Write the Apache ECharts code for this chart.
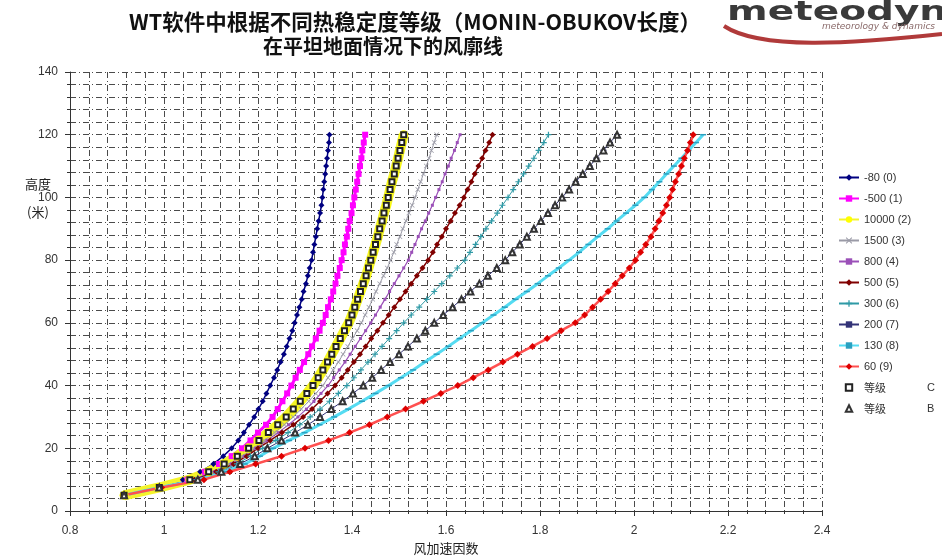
<!DOCTYPE html>
<html><head><meta charset="utf-8">
<script src="https://cdn.jsdelivr.net/npm/echarts@6/dist/echarts.min.js"></script>
<style>html,body{margin:0;padding:0;background:#fff}#c{width:942px;height:560px}</style>
</head><body><div id="c"></div>
<script>
// heights (m)
const heights = [5, 7.5, 10, 12.5, 15, 17.5, 20, 22.5, 25, 27.5,
  30, 32.5, 35, 37.5, 40, 42.5, 45, 47.5, 50, 52.5,
  55, 57.5, 60, 62.5, 65, 67.5, 70, 72.5, 75, 77.5,
  80, 82.5, 85, 87.5, 90, 92.5, 95, 97.5, 100, 102.5,
  105, 107.5, 110, 112.5, 115, 117.5, 120];

// wind speed-up factor for each stability class
const s_m80 = [0.915, 0.990, 1.040, 1.077, 1.105, 1.126, 1.144, 1.158, 1.170, 1.181,
  1.192, 1.201, 1.210, 1.218, 1.226, 1.234, 1.241, 1.248, 1.255, 1.261,
  1.267, 1.273, 1.278, 1.283, 1.288, 1.293, 1.297, 1.302, 1.306, 1.310,
  1.314, 1.317, 1.320, 1.323, 1.326, 1.329, 1.332, 1.335, 1.337, 1.339,
  1.341, 1.343, 1.345, 1.347, 1.349, 1.351, 1.352];
const s_m500 = [0.915, 0.990, 1.050, 1.087, 1.117, 1.144, 1.166, 1.184, 1.200, 1.217,
  1.231, 1.242, 1.252, 1.262, 1.271, 1.280, 1.289, 1.298, 1.307, 1.315,
  1.323, 1.331, 1.338, 1.344, 1.349, 1.355, 1.360, 1.365, 1.369, 1.374,
  1.378, 1.382, 1.385, 1.389, 1.392, 1.395, 1.399, 1.402, 1.405, 1.408,
  1.411, 1.414, 1.417, 1.420, 1.422, 1.425, 1.428];
const s_10000 = [0.915, 0.990, 1.055, 1.095, 1.128, 1.156, 1.180, 1.202, 1.222, 1.242,
  1.260, 1.275, 1.290, 1.304, 1.317, 1.328, 1.338, 1.348, 1.357, 1.366,
  1.375, 1.384, 1.393, 1.400, 1.406, 1.412, 1.418, 1.424, 1.430, 1.435,
  1.440, 1.445, 1.450, 1.455, 1.459, 1.464, 1.468, 1.473, 1.477, 1.481,
  1.485, 1.490, 1.494, 1.498, 1.502, 1.506, 1.510];
const s_1500 = [0.915, 0.990, 1.060, 1.103, 1.138, 1.166, 1.190, 1.213, 1.235, 1.256,
  1.275, 1.292, 1.308, 1.323, 1.338, 1.349, 1.360, 1.371, 1.381, 1.391,
  1.401, 1.411, 1.420, 1.428, 1.436, 1.444, 1.451, 1.459, 1.467, 1.475,
  1.482, 1.489, 1.495, 1.502, 1.508, 1.515, 1.521, 1.528, 1.534, 1.540,
  1.546, 1.552, 1.558, 1.564, 1.569, 1.575, 1.580];
const s_800 = [0.915, 0.990, 1.062, 1.107, 1.143, 1.171, 1.195, 1.219, 1.243, 1.265,
  1.285, 1.303, 1.319, 1.334, 1.349, 1.361, 1.373, 1.385, 1.396, 1.407,
  1.418, 1.429, 1.440, 1.450, 1.460, 1.470, 1.480, 1.490, 1.500, 1.510,
  1.520, 1.527, 1.534, 1.541, 1.548, 1.556, 1.563, 1.571, 1.578, 1.585,
  1.592, 1.598, 1.605, 1.611, 1.618, 1.624, 1.630];
const s_500 = [0.915, 0.990, 1.065, 1.111, 1.148, 1.176, 1.200, 1.226, 1.251, 1.275,
  1.296, 1.315, 1.332, 1.348, 1.364, 1.378, 1.391, 1.404, 1.417, 1.429,
  1.441, 1.454, 1.466, 1.478, 1.490, 1.502, 1.514, 1.526, 1.538, 1.550,
  1.562, 1.572, 1.581, 1.591, 1.600, 1.610, 1.619, 1.629, 1.638, 1.646,
  1.654, 1.661, 1.669, 1.677, 1.684, 1.692, 1.699];
const s_300 = [0.915, 0.990, 1.068, 1.116, 1.155, 1.184, 1.210, 1.238, 1.264, 1.289,
  1.311, 1.332, 1.352, 1.371, 1.389, 1.404, 1.419, 1.434, 1.449, 1.464,
  1.479, 1.495, 1.510, 1.526, 1.543, 1.559, 1.575, 1.591, 1.608, 1.624,
  1.640, 1.651, 1.663, 1.674, 1.685, 1.697, 1.709, 1.720, 1.732, 1.743,
  1.754, 1.765, 1.776, 1.787, 1.797, 1.808, 1.818];
const s_200 = [0.915, 0.990, 1.072, 1.122, 1.162, 1.193, 1.220, 1.250, 1.279, 1.306,
  1.332, 1.356, 1.380, 1.402, 1.424, 1.443, 1.462, 1.481, 1.500, 1.519,
  1.538, 1.556, 1.575, 1.594, 1.614, 1.633, 1.652, 1.671, 1.689, 1.708,
  1.726, 1.741, 1.757, 1.772, 1.787, 1.802, 1.817, 1.832, 1.847, 1.862,
  1.876, 1.891, 1.906, 1.920, 1.935, 1.949, 1.964];
const s_130 = [0.915, 0.990, 1.075, 1.128, 1.172, 1.204, 1.232, 1.266, 1.299, 1.331,
  1.362, 1.392, 1.421, 1.450, 1.478, 1.504, 1.530, 1.555, 1.580, 1.605,
  1.629, 1.653, 1.677, 1.701, 1.725, 1.748, 1.772, 1.795, 1.817, 1.840,
  1.862, 1.883, 1.903, 1.923, 1.944, 1.963, 1.983, 2.003, 2.022, 2.038,
  2.054, 2.069, 2.085, 2.101, 2.116, 2.132, 2.147];
const s_60 = [0.915, 0.995, 1.085, 1.140, 1.195, 1.250, 1.300, 1.350, 1.395, 1.437,
  1.475, 1.514, 1.552, 1.589, 1.625, 1.658, 1.690, 1.721, 1.752, 1.784,
  1.815, 1.845, 1.875, 1.895, 1.912, 1.929, 1.945, 1.960, 1.975, 1.990,
  2.003, 2.014, 2.025, 2.036, 2.045, 2.053, 2.061, 2.069, 2.076, 2.082,
  2.088, 2.095, 2.101, 2.107, 2.114, 2.120, 2.126];
// class C points lie on the 10000 curve, class B points on the 200 curve
const gradeC = s_10000;
const gradeB = s_200;

const seriesNames = ['-80 (0)', '-500 (1)', '10000 (2)', '1500 (3)', '800 (4)', '500 (5)',
  '300 (6)', '200 (7)', '130 (8)', '60 (9)', '等级 C', '等级 B'];
const titleLines = ['WT软件中根据不同热稳定度等级（MONIN-OBUKOV长度）', '在平坦地面情况下的风廓线'];
const xRange = [0.8, 2.4, 0.2];
const yRange = [0, 140, 20];

const SYM_X = 'path://M0,1L1,0L5,4L9,0L10,1L6,5L10,9L9,10L5,6L1,10L0,9L4,5Z';
const SYM_PLUS = 'path://M4,0H6V4H10V6H6V10H4V6H0V4H4Z';

function pts(xs) { return xs.map((x, i) => [x, heights[i]]); }
function mk(i, xs, color, lw, symbol, size, extra) {
  return Object.assign({
    name: seriesNames[i], type: 'line', data: pts(xs), animation: false,
    symbol: symbol, symbolSize: size, showSymbol: true,
    lineStyle: { color: color, width: lw },
    itemStyle: { color: color },
    emphasis: { disabled: true }
  }, extra || {});
}

const series = [
  mk(0, s_m80, '#000080', 1.5, 'diamond', 6),
  mk(1, s_m500, '#ff00ff', 3, 'rect', 6),
  mk(2, s_10000, '#f4f42a', 10, 'circle', 9, {itemStyle: {color: '#ffff00'}}),
  mk(3, s_1500, '#9a9aa6', 1, SYM_X, 5),
  mk(4, s_800, '#9b50b8', 1.2, 'rect', 3),
  mk(5, s_500, '#800000', 1.5, 'diamond', 6),
  mk(6, s_300, '#2f9aa6', 1, SYM_PLUS, 6),
  mk(7, s_200, '#333377', 1, 'rect', [6, 1.5]),
  mk(8, s_130, '#55dcf2', 3, 'rect', [6, 1.5], {itemStyle: {color: '#2aa0c0'}}),
  mk(9, s_60, '#ff5050', 2.5, 'diamond', 7, {itemStyle: {color: '#dd0000'}}),
  mk(10, gradeC, '#222', 0, 'emptyRect', 5, {lineStyle: {width: 0, opacity: 0}, itemStyle: {color: '#222', borderWidth: 1.2}}),
  mk(11, gradeB, '#333', 0, 'emptyTriangle', 6, {lineStyle: {width: 0, opacity: 0}, itemStyle: {color: '#333', borderWidth: 1}})
];

const gridLine = { show: true, lineStyle: { color: '#4a4a4a', width: 1, type: [6, 3, 1, 3] } };

const chart = echarts.init(document.getElementById('c'), null, { renderer: 'canvas' });
chart.setOption({
  backgroundColor: '#fff',
  animation: false,
  title: [
    { text: titleLines[0], left: 410, top: 6, textAlign: 'center',
      textStyle: { fontFamily: 'Noto Sans CJK SC', fontWeight: 'bold', fontSize: 21.5, color: '#111' } },
    { text: titleLines[1], left: 378, top: 31, textAlign: 'center',
      textStyle: { fontFamily: 'Noto Sans CJK SC', fontWeight: 'bold', fontSize: 20, color: '#111' } }
  ],
  graphic: [
    { type: 'text', x: 25, y: 178, style: { text: '高度', fontFamily: 'Noto Sans CJK SC', fontSize: 13, fill: '#222' } },
    { type: 'text', x: 27, y: 206, style: { text: '(米)', fontFamily: 'Noto Sans CJK SC', fontSize: 13, fill: '#222' } },
    { type: 'bezierCurve', shape: { x1: 724, y1: 26, cpx1: 760, cpy1: 50, cpx2: 850, cpy2: 44, x2: 942, y2: 34 },
      style: { stroke: '#b03a3a', lineWidth: 4, fill: null } },
    { type: 'text', x: 727, y: 0, scaleX: 1.5, style: { text: 'meteodyn', fontFamily: 'DejaVu Sans', fontWeight: 'bold', fontSize: 26, fill: '#3a3a3a' } },
    { type: 'text', x: 822, y: 22, style: { text: 'meteorology & dynamics', fontFamily: 'DejaVu Sans', fontStyle: 'italic', fontSize: 9, fill: '#8a6a6a' } }
  ],
  legend: {
    orient: 'vertical', left: 833, top: 166, itemGap: 8, itemWidth: 20, itemHeight: 8,
    data: seriesNames,
    textStyle: { fontFamily: 'Liberation Sans', fontSize: 11, lineHeight: 13, color: '#333',
      rich: { a: { fontFamily: 'Noto Sans CJK SC', fontSize: 11, lineHeight: 13, width: 63, color: '#333' },
              b: { fontFamily: 'Liberation Sans', fontSize: 11, lineHeight: 13, color: '#333' } } },
    formatter: function (n) {
      if (n.indexOf('等级') === 0) { return '{a|等级}{b|' + n.slice(3) + '}'; }
      return n;
    }
  },
  grid: { left: 70, right: 120, top: 72, bottom: 48 },
  xAxis: {
    type: 'value', min: xRange[0], max: xRange[1], interval: xRange[2],
    name: '风加速因数', nameLocation: 'middle', nameGap: 31,
    nameTextStyle: { fontFamily: 'Noto Sans CJK SC', fontSize: 13, color: '#222' },
    axisLine: { show: true, onZero: false, lineStyle: { color: '#333', width: 1 } },
    axisTick: { show: true, length: 5, lineStyle: { color: '#333' } },
    minorTick: { show: true, splitNumber: 5, length: 3, lineStyle: { color: '#333' } },
    axisLabel: { fontFamily: 'Liberation Sans', fontSize: 12, color: '#333', margin: 14 },
    splitLine: gridLine,
    minorSplitLine: gridLine
  },
  yAxis: {
    type: 'value', min: yRange[0], max: yRange[1], interval: yRange[2],
    axisLine: { show: true, onZero: false, lineStyle: { color: '#333', width: 1 } },
    axisTick: { show: true, length: 5, lineStyle: { color: '#333' } },
    minorTick: { show: true, splitNumber: 5, length: 3, lineStyle: { color: '#333' } },
    axisLabel: { fontFamily: 'Liberation Sans', fontSize: 12, color: '#333', margin: 12 },
    splitLine: gridLine,
    minorSplitLine: gridLine
  },
  series: series
});
</script>
</body></html>
